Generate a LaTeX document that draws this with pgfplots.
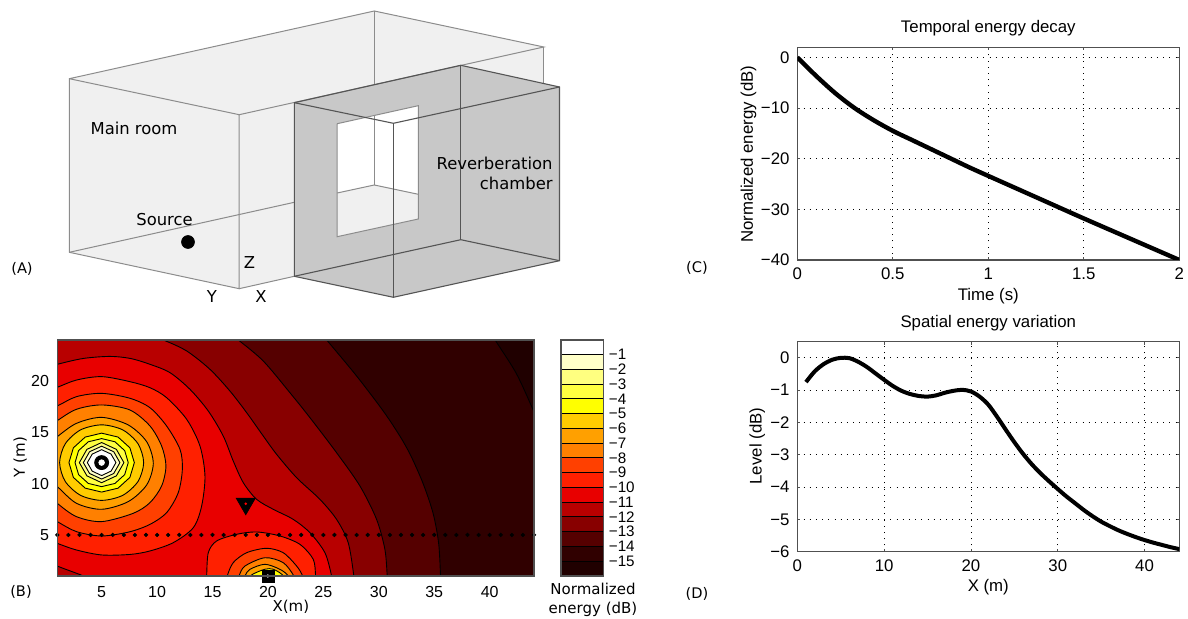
\documentclass[border=0pt]{standalone}
\usepackage{pgfplots}
\pgfplotsset{compat=1.18}
\usepackage{fontspec}
\setmainfont{Liberation Sans}
\newfontfamily\dv{DejaVu Sans}
\definecolor{roomfill}{HTML}{F0F0F0}
\definecolor{chamfill}{HTML}{C8C8C8}
\definecolor{roomline}{HTML}{8C8C8C}
\definecolor{chamline}{HTML}{555555}
\definecolor{frame}{HTML}{505050}
\definecolor{c1}{HTML}{FFFFC8}
\definecolor{c2}{HTML}{FFFF80}
\definecolor{c3}{HTML}{FFFF40}
\definecolor{c4}{HTML}{FFFF00}
\definecolor{c5}{HTML}{FFCC00}
\definecolor{c6}{HTML}{FFA000}
\definecolor{c7}{HTML}{FF8000}
\definecolor{c8}{HTML}{FF4000}
\definecolor{c9}{HTML}{FF2000}
\definecolor{c10}{HTML}{E80000}
\definecolor{c11}{HTML}{B80000}
\definecolor{c12}{HTML}{880000}
\definecolor{c13}{HTML}{550000}
\definecolor{c14}{HTML}{300000}
\definecolor{c15}{HTML}{200000}
\newcommand{\fa}{\fontsize{8.2}{10}\selectfont\dv}
\newcommand{\fl}{\fontsize{7.3}{9}\selectfont\dv}
\newcommand{\fb}{\fontsize{7.5}{9.6}\selectfont\dv}
\newcommand{\ft}{\fontsize{8.4}{10}\selectfont}
\pgfplotsset{
  /pgf/number format/assume math mode=true,
  lineplot/.style={scale only axis, axis line style={frame, line width=0.55pt},
    tick align=inside, major tick length=1.4pt, tick style={frame, line width=0.4pt},
    grid=major, major grid style={black, line width=0.4pt, dash pattern=on 0.5pt off 2.6pt},
    ticklabel style={font=\ft},
    yticklabel style={xshift=-0.4pt}, xticklabel style={yshift=-0.4pt}},
  contour/.style={draw=black, line width=0.45pt, smooth},
  inner/.style={draw=black, line width=0.45pt},
  room/.style={draw=roomline, line width=0.5pt},
  cham/.style={draw=chamline, line width=0.55pt},
  band/.style={draw=black, line width=0.5pt},
}
\begin{document}
\begin{tikzpicture}
\path[use as bounding box] (0pt,0pt) rectangle (594pt,309.5pt);

% Panel A: coordinates are the picture's own pixels
\begin{axis}[at={(0pt,0pt)}, anchor=south west, scale only axis, width=594pt, height=309.5pt,
  xmin=0, xmax=1188, ymin=0, ymax=619, y dir=reverse, hide axis, clip=false]
\addplot[fill=roomfill, draw=none] coordinates {(69.3,78.7)(374.3,11)(543.8,47)(543.8,90)(294.3,276.3)(239.2,288.7)(69.3,252.3)} --cycle;
\addplot[fill=chamfill, draw=none] coordinates {(294.3,102.7)(460.8,65.3)(559.5,87)(559.5,260.7)(393.4,297.3)(294.3,276.3)} --cycle;
\addplot[fill=white, draw=none] coordinates {(337.2,123.7)(418.3,105.7)(418.3,219)(337.2,236.7)} --cycle;
\addplot[fill=roomfill, draw=none] coordinates {(337.2,193)(374.3,185)(418.3,194.3)(418.3,219)(337.2,236.7)} --cycle;
% main room edges
\addplot[room] coordinates {(69.3,78.7)(374.3,11)(543.8,47)(239.2,114.7)(69.3,78.7)(69.3,252.3)(239.2,288.7)(239.2,114.7)};
\addplot[room] coordinates {(69.3,252.3)(294.3,202.3)};
\addplot[room] coordinates {(239.2,288.7)(294.3,276.3)};
\addplot[room] coordinates {(374.3,11)(374.3,84.7)};
\addplot[room] coordinates {(543.8,47)(543.8,83)};
% window
\addplot[room] coordinates {(337.2,123.7)(418.3,105.7)(418.3,219)(337.2,236.7)(337.2,123.7)};
\addplot[room] coordinates {(374.3,115.5)(374.3,185)};
\addplot[room] coordinates {(337.2,193)(374.3,185)(418.3,194.3)};
% chamber edges
\addplot[cham] coordinates {(294.3,102.7)(460.8,65.3)(559.5,87)(559.5,260.7)(393.4,297.3)(294.3,276.3)(294.3,102.7)};
\addplot[cham] coordinates {(294.3,102.7)(393.4,123.3)(559.5,87)};
\addplot[cham] coordinates {(393.4,123.3)(393.4,297.3)};
\addplot[cham] coordinates {(460.8,65.3)(460.8,239.7)};
\addplot[cham] coordinates {(294.3,276.3)(460.8,239.7)(559.5,260.7)};
\addplot[only marks, mark=*, mark size=3.2pt, black] coordinates {(188,242)};
\node[font=\fa] at (axis cs:134,128.3) {Main room};
\node[font=\fa] at (axis cs:164.5,220) {Source};
\node[font=\fa] at (axis cs:249.5,262.5) {Z};
\node[font=\fa] at (axis cs:212,296.5) {Y};
\node[font=\fa] at (axis cs:261,296.5) {X};
\node[font=\fa, anchor=east, inner sep=0pt] at (axis cs:553,163) {Reverberation};
\node[font=\fa, anchor=east, inner sep=0pt] at (axis cs:553,183) {chamber};
\node[font=\fl] at (axis cs:22,269) {(A)};
\node[font=\fl] at (axis cs:21,592) {(B)};
\node[font=\fl] at (axis cs:697,268) {(C)};
\node[font=\fl] at (axis cs:697,594) {(D)};
\node[font=\fb, align=center, inner sep=0pt] at (axis cs:593,599.5) {Normalized\\energy (dB)};
\end{axis}

% Panel B: contour map
\begin{axis}[at={(28.65pt,21.5pt)}, anchor=south west, scale only axis, width=238.35pt, height=118pt,
  xmin=1, xmax=44, ymin=1, ymax=24, xtick={5,10,...,40}, ytick={5,10,15,20},
  major tick length=0pt, axis line style={frame, line width=0.55pt}, axis on top, clip mode=individual,
  ticklabel style={font=\fontsize{8}{10}\selectfont},
  xlabel={X(m)}, ylabel={Y (m)},
  every axis x label/.style={at={(axis description cs:0.49,-0.131)}, anchor=center, font=\fb},
  every axis y label/.style={at={(axis description cs:-0.078,0.504)}, anchor=center, rotate=90, font=\fb},
  yticklabel style={xshift=-0.6pt}, xticklabel style={yshift=-1.5pt}]
\addplot[fill=c15, draw=none] coordinates {(-2,-1)(46,-1)(46,26)(-2,26)} --cycle;
\addplot[contour, fill=c14] coordinates {(40.1,25)(40.5,24)(42.4,20.75)(44,17)(45,14.5)(45,-1)(-2,-1)(-2,26)(40,26)} --cycle;
\addplot[contour, fill=c13] coordinates {(24.5,25)(25.3,24)(28,20.49)(30.4,17.08)(31.9,14.64)(32.9,12.7)(34,10)(34.9,7.1)(35.4,4.18)(35.57,1)(35.6,0)(35,-1)(-2,-1)(-2,26)(24,26)} --cycle;
\addplot[contour, fill=c12] coordinates {(16.3,24.8)(17.33,24)(19.58,21.95)(21.98,18.87)(23.79,16.43)(26.19,13.02)(28.3,9.77)(29.8,6.52)(30.55,3.6)(30.76,1)(30.8,0)(30,-1)(-2,-1)(-2,26)(16,26)} --cycle;
\addplot[contour, fill=c11] coordinates {(9,24.5)(10.56,24)(12.67,22.93)(14.77,21.14)(16.57,19.03)(18.08,16.92)(19.58,14.64)(20.78,12.86)(22.59,10.58)(24.69,8.47)(26.19,6.52)(27.24,4.25)(27.75,1)(27.8,0)(27,-1)(-2,-1)(-2,26)(8,26)} --cycle;
\addplot[contour, fill=c10] coordinates {(-1,21)(1,21.63)(3.34,22.2)(5.75,22.4)(7.6,22.2)(9.36,21.63)(11.16,20.82)(12.97,19.19)(14.62,17.08)(15.97,14.64)(16.87,12.21)(17.78,10.09)(18.98,8.47)(20.48,7.5)(22.28,6.52)(23.79,5.22)(25.14,3.27)(25.74,1)(25.8,0)(25,-1)(5,-1)(4,0.4)(3.34,1)(1,1.97)(-1,3)} --cycle;
% around the main source
\addplot[contour, fill=c9] coordinates {(-1,18.6)(1,19.39)(2.74,20.1)(5,20.43)(7.55,19.94)(9.36,19.35)(10.86,18.38)(12.67,16.27)(13.87,13.67)(14.32,10.74)(14.02,7.82)(13.27,5.71)(11.46,4.25)(9.36,3.44)(7.55,3.1)(5,3.05)(2.74,3.53)(1,4.18)(-1,5)} --cycle;
\addplot[contour, fill=c8] coordinates {(-1,16.6)(1,17.57)(2.74,18.48)(5,18.8)(7.55,18.32)(9.36,17.4)(10.86,15.62)(12.07,13.34)(12.28,11.39)(11.91,9.12)(10.86,7.17)(9.36,6.03)(7.5,5.3)(5,4.9)(2.74,5.32)(1,6.3)(-1,7.6)} --cycle;
\addplot[contour, fill=c7] coordinates {(-1,14.6)(1,16.14)(2.74,17.25)(5,17.67)(7.55,17.18)(9.36,15.62)(10.41,13.67)(10.8,11.72)(10.41,9.77)(9.36,8.15)(7.85,7.11)(5,6.3)(2.74,6.78)(1,8.08)(-1,10)} --cycle;
\addplot[contour, fill=c6] coordinates {(-1,12.8)(1,14.58)(2.74,15.88)(5,16.46)(7.4,15.72)(9.06,14.09)(9.66,11.98)(9.06,9.87)(7.4,8.25)(5,7.5)(2.74,8.08)(1,9.71)(-1,11.6)} --cycle;
\addplot[inner, smooth cycle, fill=c5] coordinates {(8.79,12.05)(8.28,13.89)(6.9,15.24)(5,15.73)(3.1,15.24)(1.72,13.89)(1.21,12.05)(1.72,10.21)(3.1,8.86)(5,8.37)(6.9,8.86)(8.28,10.21)};
\addplot[inner, fill=c4] coordinates {(7.95,12.05)(7.55,13.49)(6.48,14.54)(5,14.92)(3.52,14.54)(2.45,13.49)(2.05,12.05)(2.45,10.61)(3.52,9.56)(5,9.18)(6.48,9.56)(7.55,10.61)} --cycle;
\addplot[inner, fill=c3] coordinates {(7.4,12.05)(7.08,13.22)(6.2,14.08)(5,14.39)(3.8,14.08)(2.92,13.22)(2.6,12.05)(2.92,10.88)(3.8,10.02)(5,9.71)(6.2,10.02)(7.08,10.88)} --cycle;
\addplot[inner, fill=c2] coordinates {(7.01,12.05)(6.33,13.34)(5,14.01)(3.67,13.34)(2.99,12.05)(3.67,10.76)(5,10.09)(6.33,10.76)} --cycle;
\addplot[inner, fill=c1] coordinates {(6.65,12.05)(6.09,13.11)(5,13.65)(3.91,13.11)(3.35,12.05)(3.91,10.99)(5,10.45)(6.09,10.99)} --cycle;
\addplot[inner, fill=white] coordinates {(6.29,12.05)(5.85,12.88)(5,13.31)(4.15,12.88)(3.71,12.05)(4.15,11.22)(5,10.79)(5.85,11.22)} --cycle;
% around the second source
\addplot[contour, fill=c9] coordinates {(14.4,0)(14.47,1)(14.62,3.27)(15.37,4.41)(17.17,5.06)(18.98,5.29)(21.08,4.9)(22.89,4.08)(24.09,2.62)(24.3,1)(24.35,0)} --cycle;
\addplot[contour, fill=c8] coordinates {(16.2,0)(16.33,1)(16.87,2.3)(18.08,3.27)(19.88,3.7)(21.38,3.27)(22.59,1.97)(23.13,1)(23.3,0)} --cycle;
\addplot[contour, fill=c7] coordinates {(17.1,0)(17.39,1)(17.93,1.97)(19.73,2.78)(21.38,2.3)(22.34,1)(22.6,0)} --cycle;
\addplot[contour, fill=c6] coordinates {(17.7,0)(17.93,1)(18.38,1.65)(19.73,2.14)(21.08,1.65)(21.83,1)(22,0)} --cycle;
\addplot[contour, fill=c4] coordinates {(18.2,0)(18.4,1)(19.7,1.65)(20.5,1.65)(21.4,1)(21.6,0)} --cycle;
% receivers and source marks
\addplot[only marks, mark=*, mark size=0.85pt, black] coordinates {(1,5)(2,5)(3,5)(4,5)(5,5)(6,5)(7,5)(8,5)(9,5)(10,5)(11,5)(12,5)(13,5)(14,5)(15,5)(16,5)(17,5)(18,5)(19,5)(20,5)(21,5)(22,5)(23,5)(24,5)(25,5)(26,5)(27,5)(28,5)(29,5)(30,5)(31,5)(32,5)(33,5)(34,5)(35,5)(36,5)(37,5)(38,5)(39,5)(40,5)(41,5)(42,5)(43,5)(44,5)};
\addplot[only marks, mark=*, mark size=3.5pt, black] coordinates {(5,12.05)};
\addplot[only marks, mark=*, mark size=1.4pt, white, mark options={draw=white}] coordinates {(5,12.05)};
\addplot[only marks, mark=triangle*, mark size=5.5pt, black, mark options={rotate=180}] coordinates {(18,8.05)};
\addplot[only marks, mark=*, mark size=0.4pt, red, mark options={draw=red}] coordinates {(18,8.05)};
\addplot[only marks, mark=square*, mark size=3pt, black] coordinates {(20,1)};
\addplot[only marks, mark=*, mark size=0.6pt, white, mark options={draw=white}] coordinates {(20,1)};
\end{axis}

% Colour bar
\begin{axis}[at={(280.5pt,21.5pt)}, anchor=south west, scale only axis, width=21.15pt, height=118pt,
  xmin=0, xmax=1, ymin=-16, ymax=0, xtick=\empty, ytick={-15,-14,...,-1},
  yticklabels={−15,−14,−13,−12,−11,−10,−9,−8,−7,−6,−5,−4,−3,−2,−1},
  ticklabel pos=right, major tick length=0pt, axis line style={frame, line width=0.55pt}, axis on top,
  yticklabel style={font=\fontsize{7.6}{9}\selectfont, anchor=west, xshift=2.6pt, inner sep=0pt}]
\addplot[band, fill=white] coordinates {(0,-1)(1,-1)(1,0)(0,0)} --cycle;
\addplot[band, fill=c1] coordinates {(0,-2)(1,-2)(1,-1)(0,-1)} --cycle;
\addplot[band, fill=c2] coordinates {(0,-3)(1,-3)(1,-2)(0,-2)} --cycle;
\addplot[band, fill=c3] coordinates {(0,-4)(1,-4)(1,-3)(0,-3)} --cycle;
\addplot[band, fill=c4] coordinates {(0,-5)(1,-5)(1,-4)(0,-4)} --cycle;
\addplot[band, fill=c5] coordinates {(0,-6)(1,-6)(1,-5)(0,-5)} --cycle;
\addplot[band, fill=c6] coordinates {(0,-7)(1,-7)(1,-6)(0,-6)} --cycle;
\addplot[band, fill=c7] coordinates {(0,-8)(1,-8)(1,-7)(0,-7)} --cycle;
\addplot[band, fill=c8] coordinates {(0,-9)(1,-9)(1,-8)(0,-8)} --cycle;
\addplot[band, fill=c9] coordinates {(0,-10)(1,-10)(1,-9)(0,-9)} --cycle;
\addplot[band, fill=c10] coordinates {(0,-11)(1,-11)(1,-10)(0,-10)} --cycle;
\addplot[band, fill=c11] coordinates {(0,-12)(1,-12)(1,-11)(0,-11)} --cycle;
\addplot[band, fill=c12] coordinates {(0,-13)(1,-13)(1,-12)(0,-12)} --cycle;
\addplot[band, fill=c13] coordinates {(0,-14)(1,-14)(1,-13)(0,-13)} --cycle;
\addplot[band, fill=c14] coordinates {(0,-15)(1,-15)(1,-14)(0,-14)} --cycle;
\addplot[band, fill=c15] coordinates {(0,-16)(1,-16)(1,-15)(0,-15)} --cycle;
\end{axis}

% Panel C
\begin{axis}[lineplot, at={(398.65pt,179.5pt)}, anchor=south west, width=191pt, height=106.35pt,
  xmin=0, xmax=2, ymin=-40, ymax=2, xtick={0,0.5,1,1.5,2}, xticklabels={0,0.5,1,1.5,2},
  ytick={-40,-30,-20,-10,0}, yticklabels={−40,−30,−20,−10,0},
  title={Temporal energy decay}, xlabel={Time (s)}, ylabel={Normalized energy (dB)},
  every axis title/.style={at={(axis description cs:0.5,1.0907)}, anchor=center, font=\ft},
  every axis x label/.style={at={(axis description cs:0.5,-0.168)}, anchor=center, font=\ft},
  every axis y label/.style={at={(axis description cs:-0.128,0.497)}, anchor=center, rotate=90, font=\ft}]
\addplot[black, line width=2.2pt, smooth] coordinates {(0,0)(0.1,-3.7)(0.2,-7.1)(0.3,-10)(0.4,-12.4)(0.5,-14.5)(0.6,-16.3)(0.7,-18.1)(0.8,-19.9)(0.9,-21.7)(1,-23.4)(1.25,-27.6)(1.5,-31.8)(1.75,-35.9)(2,-40)};
\end{axis}

% Panel D
\begin{axis}[lineplot, at={(398.65pt,33.65pt)}, anchor=south west, width=191pt, height=105pt,
  xmin=0, xmax=44, ymin=-6, ymax=0.5, xtick={0,10,20,30,40},
  ytick={-6,-5,-4,-3,-2,-1,0}, yticklabels={−6,−5,−4,−3,−2,−1,0},
  title={Spatial energy variation}, xlabel={X (m)}, ylabel={Level (dB)},
  every axis title/.style={at={(axis description cs:0.5,1.0905)}, anchor=center, font=\ft},
  every axis x label/.style={at={(axis description cs:0.5,-0.167)}, anchor=center, font=\ft},
  every axis y label/.style={at={(axis description cs:-0.105,0.503)}, anchor=center, rotate=90, font=\ft}]
\addplot[black, line width=2pt, smooth] coordinates {(1,-0.75)(2,-0.42)(3,-0.2)(4,-0.06)(5,0)(6,-0.01)(7,-0.12)(8,-0.28)(9,-0.48)(10,-0.68)(11,-0.87)(12,-1.02)(13,-1.12)(14,-1.18)(15,-1.2)(16,-1.16)(17,-1.08)(18,-1.02)(19,-0.99)(20,-1.04)(21,-1.2)(22,-1.45)(23,-1.82)(24,-2.22)(25,-2.61)(26,-2.97)(27,-3.29)(28,-3.57)(29,-3.82)(30,-4.06)(31,-4.29)(32,-4.5)(33,-4.71)(34,-4.9)(35,-5.07)(36,-5.21)(37,-5.34)(38,-5.45)(39,-5.55)(40,-5.64)(41,-5.72)(42,-5.79)(43,-5.86)(44,-5.92)};
\end{axis}
\end{tikzpicture}
\end{document}
